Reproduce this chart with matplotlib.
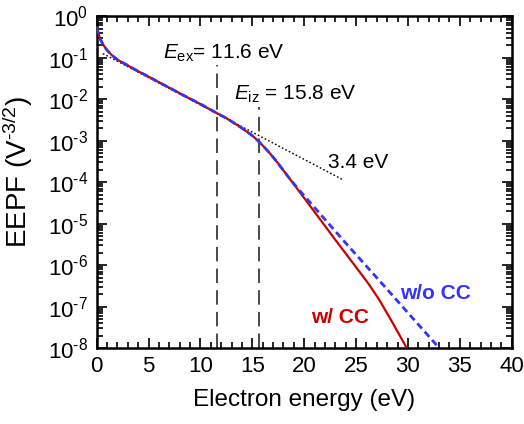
import matplotlib
matplotlib.use("Agg")
import matplotlib.pyplot as plt
from matplotlib.ticker import LogLocator, MultipleLocator, FixedLocator, NullFormatter

plt.rcParams['font.family'] = ['Liberation Sans', 'DejaVu Sans']
plt.rcParams['mathtext.fontset'] = 'custom'
plt.rcParams['mathtext.rm'] = 'Liberation Sans'
plt.rcParams['mathtext.it'] = 'Liberation Sans:italic'
plt.rcParams['mathtext.bf'] = 'Liberation Sans:bold'

# ---- data ----
energy_common = [0.0, 0.15, 0.35, 0.6, 1.0, 1.5, 2.0, 2.5, 3.0, 4.0, 5.0, 6.5,
                 8.0, 10.0, 11.6, 12.5, 13.2, 14.0, 15.0, 15.7, 16.5, 17.3, 18.0]
eepf_common = [0.537, 0.398, 0.275, 0.209, 0.151, 0.112, 0.0891, 0.0759, 0.0646,
               0.0468, 0.0347, 0.0219, 0.0138, 0.00759, 0.00457, 0.00347,
               0.00269, 0.00200, 0.00132, 0.000912, 0.000562, 0.000324, 0.000191]

energy_cc_tail = [18.7, 19.3, 21.0, 23.0, 25.0, 26.2, 27.2, 28.5, 30.0]
eepf_cc_tail = [1.12e-4, 7.08e-5, 1.91e-5, 4.07e-6, 8.9e-7, 3.55e-7, 1.51e-7,
                4.17e-8, 8.9e-9]

energy_nocc_tail = [18.7, 19.5, 20.0, 24.0, 28.0, 33.2]
eepf_nocc_tail = [1.12e-4, 6.5e-5, 4.7e-5, 3.4e-6, 2.6e-7, 8.9e-9]

fit_energy = [0.6, 23.7]
fit_eepf = [0.125, 1.15e-4]

E_ex = 11.6
E_iz_line = 15.6
E_ex_top = 0.066
E_iz_top = 0.0063

x_ticks = [0, 5, 10, 15, 20, 25, 30, 35, 40]
y_decades = [0, -1, -2, -3, -4, -5, -6, -7, -8]

energy_cc = energy_common + energy_cc_tail
eepf_cc = eepf_common + eepf_cc_tail
energy_nocc = energy_common + energy_nocc_tail
eepf_nocc = eepf_common + eepf_nocc_tail

fig = plt.figure(figsize=(5.24, 4.24), dpi=100)
ax = fig.add_axes([0.1845, 0.179, 0.792, 0.783])

ax.set_yscale('log')
ax.set_xlim(0, 40)
ax.set_ylim(1e-8, 1)

red = '#CC0000'
blue = '#3333FF'

ax.plot(fit_energy, fit_eepf, color='black', lw=1.0, ls=(0, (1.2, 1.6)), zorder=3)
ax.plot(energy_cc, eepf_cc, color=red, lw=1.6, zorder=4)
ax.plot(energy_nocc, eepf_nocc, color=blue, lw=2.0, ls=(0, (2.5, 1.5)), zorder=5)

ax.plot([E_ex, E_ex], [1e-8, E_ex_top], color='#3a3a3a', lw=1.3, ls=(0, (8, 4)), zorder=2)
ax.plot([E_iz_line, E_iz_line], [1e-8, E_iz_top], color='#3a3a3a', lw=1.3, ls=(0, (8, 4)), zorder=2)

ax.text(6.4, 10 ** -1.02, r'$E_{\rm ex}$= 11.6 eV', fontsize=15, ha='left', va='baseline')
ax.text(13.2, 10 ** -2.02, r'$E_{\rm iz}$ = 15.8 eV', fontsize=15, ha='left', va='baseline')
ax.text(22.3, 10 ** -3.66, '3.4 eV', fontsize=15, ha='left', va='baseline')
ax.text(20.7, 10 ** -7.40, 'w/ CC', fontsize=15, ha='left', va='baseline',
        color=red, fontweight='bold')
ax.text(29.2, 10 ** -6.82, 'w/o CC', fontsize=15, ha='left', va='baseline',
        color=blue, fontweight='bold')


def sup_label(d):
    if d < 0:
        return r'$10^{\text{-}%d}$' % (-d)
    return r'$10^{%d}$' % d


ax.xaxis.set_major_locator(FixedLocator(x_ticks))
ax.xaxis.set_minor_locator(MultipleLocator(1))
ax.yaxis.set_major_locator(FixedLocator([10.0 ** d for d in y_decades]))
ax.yaxis.set_minor_locator(LogLocator(base=10, subs=range(2, 10), numticks=20))
ax.yaxis.set_minor_formatter(NullFormatter())
ax.set_yticklabels([sup_label(d) for d in y_decades])
ax.set_xticklabels([str(t) for t in x_ticks])

ax.tick_params(which='both', direction='in', top=True, right=True, labelsize=16, width=1.2)
ax.tick_params(which='major', length=7, pad=6)
ax.tick_params(which='minor', length=4)
for s in ax.spines.values():
    s.set_linewidth(1.8)

ax.set_xlabel('Electron energy (eV)', fontsize=17.5, labelpad=8)
ax.set_ylabel(r'EEPF (V$^{\text{-}3/2}$)', fontsize=20)
ax.yaxis.set_label_coords(-0.148, 0.53)

fig.savefig('out.png', dpi=100)
